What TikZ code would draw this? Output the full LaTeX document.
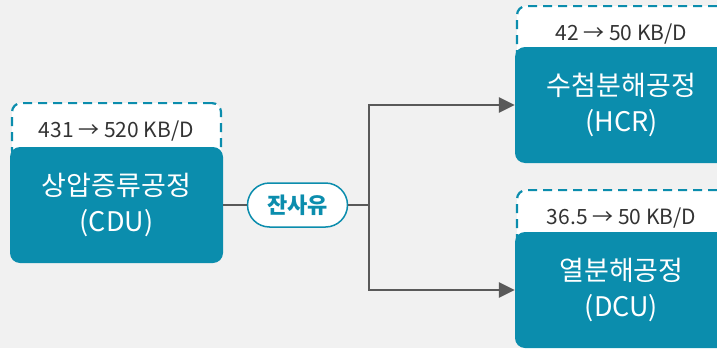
\documentclass[tikz,border=0pt]{standalone}
\usepackage{fontspec}
\setmainfont{Noto Sans CJK KR}
\usetikzlibrary{arrows.meta,positioning}
\definecolor{teal0}{HTML}{0B8DAD}
\definecolor{bggray}{HTML}{F1F1F1}
\definecolor{linegray}{HTML}{595959}
\definecolor{txtgray}{HTML}{333333}

\begin{document}
\begin{tikzpicture}[x=1pt,y=-1pt,>={Triangle[length=16pt,width=15pt]},
 unitbox/.style={fill=teal0,rounded corners=10pt,minimum width=213pt,minimum height=116pt,align=center,text=white,font=\fontsize{27}{36}\selectfont,inner sep=0pt},
 capbox/.style={draw=teal0,dashed,dash pattern=on 9pt off 6pt,line width=2.2pt,fill=white,rounded corners=9pt,minimum width=209pt,minimum height=56pt,anchor=north,text=txtgray,font=\fontsize{21}{24}\selectfont,inner sep=0pt},
 pill/.style={draw=teal0,line width=1.5pt,fill=white,rounded corners=22pt,minimum width=100pt,minimum height=44pt,text=teal0,font=\fontsize{22}{26}\selectfont\bfseries,inner sep=0pt},
 flow/.style={draw=linegray,line width=2.5pt}]
\fill[bggray] (0,0) rectangle (717,348);
\clip (0,0) rectangle (717,348);
% left unit
\node[capbox] (cduCap) at (116.5,102) {431 → 520 KB/D};
\node[unitbox] (cdu) at (116.5,205) {상압증류공정\\(CDU)};
% right units
\node[capbox] (hcrCap) at (621.5,5) {42 → 50 KB/D};
\node[unitbox] (hcr) at (621.5,105) {수첨분해공정\\(HCR)};
\node[capbox] (dcuCap) at (621.5,189) {36.5 → 50 KB/D};
\node[unitbox] (dcu) at (621.5,290) {열분해공정\\(DCU)};
% residue
\node[pill] (resid) at (297.5,205) {잔사유};
\coordinate (split) at (369,205);
\draw[flow] (cdu.east) -- (resid.west);
\draw[flow] (resid.east) -- (split);
\draw[flow,->] (split) |- (hcr.west);
\draw[flow,->] (split) |- (dcu.west);
\end{tikzpicture}
\end{document}
